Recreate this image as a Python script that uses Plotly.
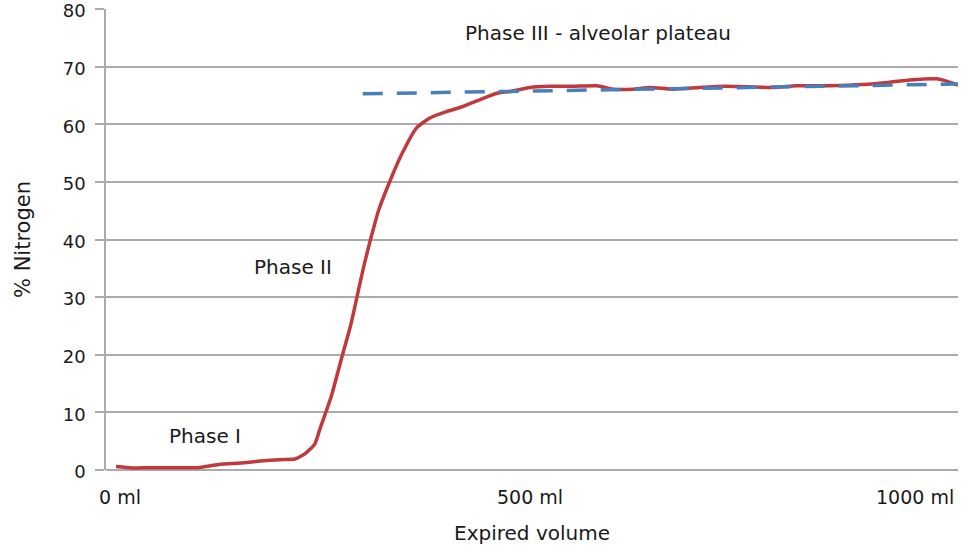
import plotly.graph_objects as go

# Expired volume (ml) and nitrogen concentration (%) along a single-breath washout
volume_ml = [0, 20, 41, 101, 126, 150, 174, 198, 216, 228, 240, 246, 260, 273, 283,
             291, 299, 307, 317, 331, 345, 363, 379, 399, 419, 440, 460, 476, 500,
             524, 552, 581, 600, 624, 645, 673, 705, 738, 793, 822, 862, 902, 935,
             959, 991, 1003, 1017]
nitrogen_pct = [0.6, 0.35, 0.4, 0.45, 1.0, 1.2, 1.55, 1.8, 1.9, 2.8, 4.5, 7.0, 12.8,
                19.7, 24.9, 30.0, 35.2, 39.8, 45.0, 50.2, 54.8, 59.4, 61.1, 62.2, 63.1,
                64.3, 65.4, 65.7, 66.4, 66.6, 66.6, 66.7, 66.1, 66.1, 66.4, 66.1, 66.4,
                66.6, 66.4, 66.7, 66.7, 66.9, 67.3, 67.7, 67.9, 67.5, 66.8]

# Linear fit of the alveolar plateau (phase III slope)
plateau_fit_ml = [298, 1017]
plateau_fit_pct = [65.3, 67.0]

x_tick_values = [0, 500, 1000]
x_tick_labels = ["0 ml", "500 ml", "1000 ml"]
y_tick_values = [0, 10, 20, 30, 40, 50, 60, 70, 80]

phase_labels = ["Phase I", "Phase II", "Phase III - alveolar plateau"]
phase_label_ml = [107, 214, 582]
phase_label_pct = [5.9, 35.2, 75.9]

FONT = "DejaVu Sans, Verdana, sans-serif"
TEXT = "#1a1a1a"
GRID = "#ababab"

fig = go.Figure()
fig.add_trace(go.Scatter(
    x=volume_ml, y=nitrogen_pct, mode="lines",
    line=dict(color="#c0393d", width=3.5, shape="spline", smoothing=0.5),
    showlegend=False, hoverinfo="skip",
))
fig.add_trace(go.Scatter(
    x=plateau_fit_ml, y=plateau_fit_pct, mode="lines",
    line=dict(color="#4a7ebb", width=3.5, dash="20px,14px"),
    showlegend=False, hoverinfo="skip",
))

annotations = []
for i, (val, lab) in enumerate(zip(x_tick_values, x_tick_labels)):
    first = i == 0
    last = i == len(x_tick_values) - 1
    annotations.append(dict(
        x=val, y=0, xref="x", yref="y", text=lab, showarrow=False,
        xanchor="right" if last else "center", yanchor="top",
        xshift=12 if last else (4 if first else 0), yshift=-14,
        font=dict(family=FONT, size=19, color=TEXT),
    ))
for lab, xm, yp in zip(phase_labels, phase_label_ml, phase_label_pct):
    annotations.append(dict(
        x=xm, y=yp, xref="x", yref="y", text=lab, showarrow=False,
        xanchor="center", yanchor="middle",
        font=dict(family=FONT, size=20, color=TEXT),
    ))

fig.update_layout(
    width=961, height=547,
    margin=dict(l=106, r=3, t=9, b=77, autoexpand=False),
    paper_bgcolor="white", plot_bgcolor="white",
    font=dict(family=FONT, size=19, color=TEXT),
    annotations=annotations,
    xaxis=dict(
        range=[-12.1, 1016.9], showgrid=False, zeroline=False,
        showticklabels=False, ticks="", showline=False,
        title=dict(text="Expired volume", standoff=55,
                   font=dict(family=FONT, size=20, color=TEXT)),
        automargin=False,
    ),
    yaxis=dict(
        range=[0, 80.02], tickvals=y_tick_values,
        showgrid=True, gridcolor=GRID, gridwidth=1.6,
        zeroline=True, zerolinecolor=GRID, zerolinewidth=1.6,
        showline=True, linecolor=GRID, linewidth=1.6,
        ticks="outside", ticklen=9, tickcolor=GRID, tickwidth=1.6,
        ticklabelstandoff=6, ticklabelshift=2, ticklabeloverflow="allow",
        tickfont=dict(family=FONT, size=18, color=TEXT),
        title=dict(text="% Nitrogen", standoff=26,
                   font=dict(family=FONT, size=21, color=TEXT)),
        automargin=False,
    ),
)

fig.write_html("out.html")
